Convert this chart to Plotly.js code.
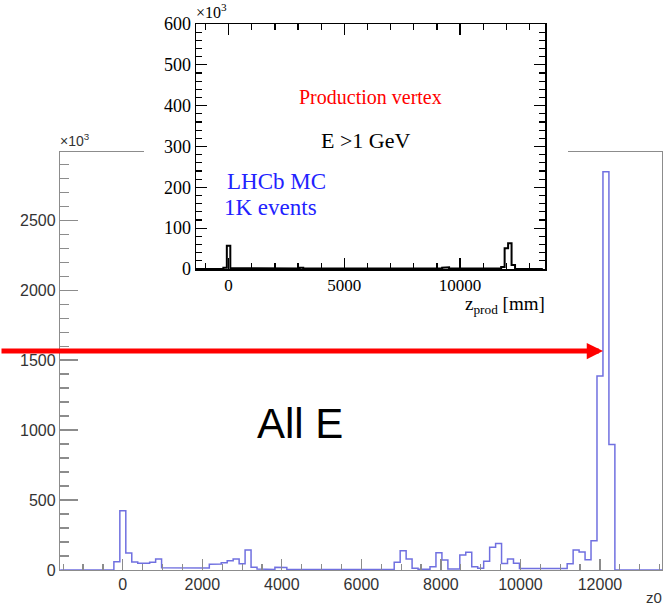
<!DOCTYPE html>
<html><head><meta charset="utf-8">
<script src="https://cdn.plot.ly/plotly-3.0.1.min.js"></script>
<style>html,body{margin:0;padding:0;background:#fff;} #chart{width:665px;height:607px;}</style>
</head><body><div id="chart"></div>
<script>
// Histogram binning (mm): bins centred on multiples of 150 mm
const binFirstCenter = -1500;
const binWidth = 150;
// Main "All E" histogram counts (x10^3), one per bin, centres -1500 ... 13500
const allECounts = [
  0,0,0,0,0,0,0,0,0,
  59,424,121,57,48,48,55,78,16,
  14,14,14,14,14,14,15,
  41,42,52,66,79,45,143,19,7,4,4,20,18,3,
  2,2,2,2,2,2,2,2,2,2,2,2,2,2,2,
  3,3,55,137,78,12,5,5,24,124,71,7,7,107,126,24,12,62,162,190,47,79,48,
  10,10,10,10,10,10,10,10,
  45,143,129,74,209,1387,2845,897,
  0,0,0,0,0,0,0,0
];
// Inset "E > 1 GeV" histogram counts (x10^3), same bins
const insetCounts = [
  0,0,0,0,0,0,0,0,0,
  3,57,2,1,1,1,1,1,
  1,1,1,1,1,1,1,1,1,1,1,1,
  2,1,3,1,1,1,1,1,1,1,1,1,1,1,1,1,1,1,1,1,1,1,1,1,1,1,1,
  1,2,1,1,1,1,1,2,1,1,1,2,2,1,1,1,3,4,
  1,1,1,1,1,1,1,1,1,1,1,1,2,2,1,
  5,51,63,10,
  0,0,0,0,0,0,0,0
];
const mainXTicks = {dtick: 2000, minor: 500};
const mainYTicks = {dtick: 500, minor: 100};
const insetXTicks = {dtick: 5000, minor: 1000};
const insetYTicks = {dtick: 100, minor: 20};

function stepLine(counts) {
  const xs = [], ys = [];
  for (let i = 0; i < counts.length; i++) {
    const c = binFirstCenter + i * binWidth;
    const lo = c - binWidth / 2, hi = c + binWidth / 2;
    if (i === 0) { xs.push(lo); ys.push(0); }
    xs.push(lo); ys.push(counts[i]);
    xs.push(hi); ys.push(counts[i]);
  }
  xs.push(xs[xs.length - 1]); ys.push(0);
  return {xs, ys};
}
const mainStep = stepLine(allECounts);
const insetStep = stepLine(insetCounts);

const W = 665, H = 607;
const px = v => v / W;
const py = v => (H - v) / H;

const grey = '#8c8c8c';
const sans = 'Liberation Sans, Arial, sans-serif';
const serif = 'Liberation Serif, Times New Roman, serif';

const traces = [
  {type: 'scatter', mode: 'lines', x: mainStep.xs, y: mainStep.ys, xaxis: 'x', yaxis: 'y',
   line: {color: '#7070e0', width: 1.5}, hoverinfo: 'skip'},
  {type: 'scatter', mode: 'lines', x: [], y: [], xaxis: 'x2', yaxis: 'y2', hoverinfo: 'skip'},
  {type: 'scatter', mode: 'lines', x: insetStep.xs, y: insetStep.ys, xaxis: 'x3', yaxis: 'y3',
   line: {color: '#000', width: 2}, hoverinfo: 'skip'}
];

const layout = {
  width: W, height: H,
  margin: {l: 0, r: 0, t: 0, b: 0},
  paper_bgcolor: '#fff', plot_bgcolor: '#fff',
  showlegend: false,
  font: {family: sans, color: '#333'},
  xaxis: {domain: [px(60), px(662)], anchor: 'y', range: [-1580, 13560],
    showgrid: false, zeroline: false, showline: true, linecolor: grey, linewidth: 1.2, mirror: true,
    ticks: 'inside', ticklen: 11, tickwidth: 1.2, tickcolor: grey, tick0: 0, dtick: mainXTicks.dtick,
    tickformat: 'd', tickfont: {family: sans, size: 16, color: '#333'},
    minor: {dtick: mainXTicks.minor, tick0: 0, ticks: 'inside', ticklen: 6, tickwidth: 1.2, tickcolor: grey, showgrid: false}},
  yaxis: {domain: [py(570), py(152)], anchor: 'x', range: [0, 2987],
    showgrid: false, zeroline: false, showline: true, linecolor: grey, linewidth: 1.2, mirror: true,
    ticks: 'inside', ticklen: 18, tickwidth: 1.2, tickcolor: grey, tick0: 0, dtick: mainYTicks.dtick,
    tickformat: 'd', tickfont: {family: sans, size: 16, color: '#333'},
    minor: {dtick: mainYTicks.minor, tick0: 0, ticks: 'inside', ticklen: 9, tickwidth: 1.2, tickcolor: grey, showgrid: false}},
  xaxis2: {domain: [px(144), px(568)], anchor: 'y2', range: [0, 1], showline: false, showgrid: false,
    zeroline: false, showticklabels: false, ticks: ''},
  yaxis2: {domain: [py(322), 1], anchor: 'x2', range: [0, 1], showline: false, showgrid: false,
    zeroline: false, showticklabels: false, ticks: ''},
  xaxis3: {domain: [px(196), px(545)], anchor: 'y3', range: [-1407, 13669],
    showgrid: false, zeroline: false, showline: true, linecolor: '#000', linewidth: 1.5, mirror: 'allticks',
    ticks: 'inside', ticklen: 11, tickwidth: 1.3, tickcolor: '#000', tick0: 0, dtick: insetXTicks.dtick,
    tickformat: 'd', tickfont: {family: serif, size: 17, color: '#000'},
    minor: {dtick: insetXTicks.minor, tick0: 0, ticks: 'inside', ticklen: 6, tickwidth: 1.3, tickcolor: '#000', showgrid: false}},
  yaxis3: {domain: [py(269), py(24)], anchor: 'x3', range: [0, 600],
    showgrid: false, zeroline: false, showline: true, linecolor: '#000', linewidth: 1.5, mirror: 'allticks',
    ticks: 'inside', ticklen: 11, tickwidth: 1.3, tickcolor: '#000', tick0: 0, dtick: insetYTicks.dtick,
    tickformat: 'd', tickfont: {family: serif, size: 18, color: '#000'},
    minor: {dtick: insetYTicks.minor, tick0: 0, ticks: 'inside', ticklen: 6, tickwidth: 1.3, tickcolor: '#000', showgrid: false}},
  annotations: [
    {xref: 'paper', yref: 'paper', x: px(58), y: py(151), xanchor: 'left', yanchor: 'bottom',
     text: '×10<sup>3</sup>', showarrow: false, font: {family: sans, size: 14, color: '#333'}},
    {xref: 'paper', yref: 'paper', x: px(664), y: py(597), xanchor: 'right', yanchor: 'middle',
     text: 'z0', showarrow: false, font: {family: sans, size: 15, color: '#333'}},
    {xref: 'paper', yref: 'paper', x: px(194), y: py(23), xanchor: 'left', yanchor: 'bottom',
     text: '×10<sup>3</sup>', showarrow: false, font: {family: serif, size: 16, color: '#000'}},
    {xref: 'paper', yref: 'paper', x: px(547), y: py(305), xanchor: 'right', yanchor: 'middle',
     text: 'z<sub>prod</sub> [mm]', showarrow: false, font: {family: serif, size: 19, color: '#000'}},
    {xref: 'paper', yref: 'paper', x: px(370), y: py(97), xanchor: 'center', yanchor: 'middle',
     text: 'Production vertex', showarrow: false, font: {family: serif, size: 20, color: '#ff0000'}},
    {xref: 'paper', yref: 'paper', x: px(365), y: py(140), xanchor: 'center', yanchor: 'middle',
     text: 'E &gt;1 GeV', showarrow: false, font: {family: serif, size: 22, color: '#000'}},
    {xref: 'paper', yref: 'paper', x: px(225), y: py(181), xanchor: 'left', yanchor: 'middle',
     text: 'LHCb MC', showarrow: false, font: {family: serif, size: 23, color: '#2222ff'}},
    {xref: 'paper', yref: 'paper', x: px(222), y: py(207), xanchor: 'left', yanchor: 'middle',
     text: '1K events', showarrow: false, font: {family: serif, size: 23, color: '#2222ff'}},
    {xref: 'paper', yref: 'paper', x: px(300), y: py(423), xanchor: 'center', yanchor: 'middle',
     text: 'All E', showarrow: false, font: {family: sans, size: 42, color: '#000'}},
    {xref: 'paper', yref: 'paper', x: px(603), y: py(351), text: '', showarrow: true,
     ax: -620, ay: 0, arrowcolor: '#ff0000', arrowwidth: 5, arrowhead: 2, arrowsize: 0.65, standoff: 0}
  ]
};

Plotly.newPlot('chart', traces, layout, {staticPlot: true, displayModeBar: false});
</script></body></html>
